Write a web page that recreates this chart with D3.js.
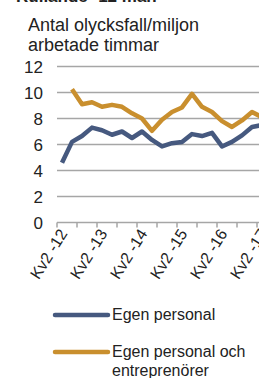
<!DOCTYPE html>
<html><head><meta charset="utf-8">
<script src="https://cdn.jsdelivr.net/npm/d3@7/dist/d3.min.js"></script>
<style>body{margin:0;background:#fff;}svg{display:block;font-family:"Liberation Sans",Arial,sans-serif;}</style>
</head><body><svg id="c" width="259" height="378"></svg>
<script>
const categories = ["Kv2 -12","Kv3 -12","Kv4 -12","Kv1 -13","Kv2 -13","Kv3 -13","Kv4 -13","Kv1 -14","Kv2 -14","Kv3 -14","Kv4 -14","Kv1 -15","Kv2 -15","Kv3 -15","Kv4 -15","Kv1 -16","Kv2 -16","Kv3 -16","Kv4 -16","Kv1 -17","Kv2 -17"];
const egenPersonal = [4.6,6.2,6.65,7.3,7.1,6.75,7.0,6.5,7.0,6.35,5.85,6.1,6.2,6.8,6.65,6.9,5.85,6.2,6.7,7.35,7.5];
const egenOchEntreprenorer = [null,10.25,9.1,9.25,8.9,9.05,8.9,8.4,8.0,7.05,7.9,8.5,8.85,9.9,8.9,8.5,7.8,7.35,7.85,8.5,8.1];
const yTicks = [0,2,4,6,8,10,12];
const seriesNames = ["Egen personal","Egen personal och entreprenörer"];
const colors = ["#46597f","#c98f2e"];

const svg = d3.select("#c");
const left = 57, bandW = 10;
const x = d3.scaleBand().domain(categories).range([left, left + bandW*categories.length]);
const y = d3.scaleLinear().domain([0,12]).range([222.5, 66.5]);

// cut-off heading
svg.append("text").attr("x",16).attr("y",1.5).attr("font-size",17).attr("font-weight","bold").attr("fill","#222").text("Rullande -12 mån");

svg.append("text").attr("x",28).attr("y",31).attr("font-size",18).attr("fill","#222").text("Antal olycksfall/miljon");
svg.append("text").attr("x",28).attr("y",51).attr("font-size",18).attr("fill","#222").text("arbetade timmar");

// grid
svg.append("g").selectAll("line").data(yTicks.filter(d=>d>0)).join("line")
  .attr("x1",left).attr("x2",300).attr("y1",d=>y(d)).attr("y2",d=>y(d))
  .attr("stroke","#a6a6a6").attr("stroke-width",1.5);

// y labels
svg.append("g").selectAll("text").data(yTicks).join("text")
  .attr("x",43).attr("y",d=>y(d)+6).attr("text-anchor","end").attr("font-size",17).attr("fill","#222").text(d=>d);

// x axis
svg.append("line").attr("x1",left).attr("x2",300).attr("y1",y(0)).attr("y2",y(0)).attr("stroke","#a6a6a6").attr("stroke-width",1.5);
svg.append("g").selectAll("line").data(categories.filter((d,i)=>i%2===0)).join("line")
  .attr("x1",d=>x(d)).attr("x2",d=>x(d)).attr("y1",y(0)).attr("y2",y(0)+5)
  .attr("stroke","#a6a6a6").attr("stroke-width",1.5);
svg.append("g").selectAll("text").data(categories.filter((d,i)=>i%4===0)).join("text")
  .attr("transform",d=>`translate(${x(d)+x.bandwidth()/2+6},${y(0)+11}) rotate(-58)`)
  .attr("text-anchor","end").attr("font-size",16).attr("fill","#222").text(d=>d);

// lines
const line = d3.line().defined(d=>d!=null).x((d,i)=>x(categories[i])+x.bandwidth()/2).y(d=>y(d));
[egenPersonal, egenOchEntreprenorer].forEach((s,k)=>{
  svg.append("path").attr("d",line(s)).attr("fill","none").attr("stroke",colors[k]).attr("stroke-width",4.5).attr("stroke-linejoin","round");
});

// legend
const lg = svg.append("g");
lg.append("line").attr("x1",55).attr("x2",108).attr("y1",315).attr("y2",315).attr("stroke",colors[0]).attr("stroke-width",4.5).attr("stroke-linecap","round");
lg.append("text").attr("x",112).attr("y",320).attr("font-size",16).attr("fill","#222").text(seriesNames[0]);
lg.append("line").attr("x1",55).attr("x2",108).attr("y1",352).attr("y2",352).attr("stroke",colors[1]).attr("stroke-width",4.5).attr("stroke-linecap","round");
lg.append("text").attr("x",112).attr("y",357).attr("font-size",16).attr("fill","#222").text("Egen personal och");
lg.append("text").attr("x",112).attr("y",376).attr("font-size",16).attr("fill","#222").text("entreprenörer");
</script></body></html>
